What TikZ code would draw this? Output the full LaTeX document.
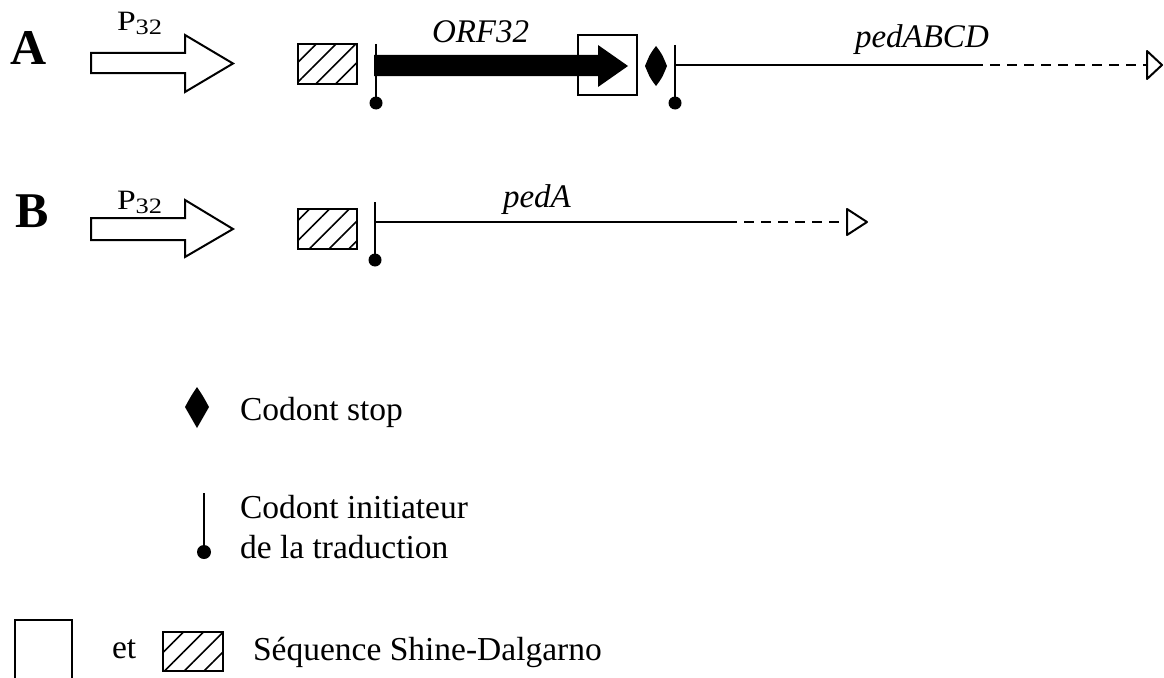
\documentclass[tikz,border=0pt]{standalone}
\usepackage{fontspec}
\setmainfont{Liberation Serif}
\usetikzlibrary{patterns.meta}
\newcommand\myfs[1]{\fontsize{#1}{#1}\selectfont}
\newcommand\pthirtytwo{\scalebox{1.2}[1]{\myfs{28}P\raisebox{-4pt}{\myfs{22}32}}}
\tikzset{
  every node/.style={inner sep=0pt, outer sep=0pt, anchor=base west},
  thin line/.style={line width=2pt},
  hatchbox/.style={draw, line width=2pt, pattern={Lines[angle=45,distance=14pt,line width=1.6pt]}},
  openbox/.style={draw, line width=2pt},
  promoter/.style={draw, line width=2pt, fill=white, line join=miter},
  dashpart/.style={line width=2pt, dash pattern=on 10pt off 7pt},
  opentip/.style={draw, line width=2pt, fill=white, line join=round},
  rowlabel/.style={font=\myfs{50}\bfseries},
  genelabel/.style={font=\myfs{33}\itshape},
  legendtext/.style={font=\myfs{33.5}},
}
\begin{document}
\begin{tikzpicture}[x=1pt,y=-1pt]
\useasboundingbox (0,0) rectangle (1164,677);

% ---------------- Row A ----------------
\node[rowlabel] (labA) at (10,65) {A};
\draw[promoter] (91,53) -- (185,53) -- (185,35) -- (233,63.5) -- (185,92) -- (185,73) -- (91,73) -- cycle;
\node (pA) at (117,31) {\pthirtytwo};
\path[hatchbox] (298,44) rectangle (357,84);
% box around end of ORF32
\draw[openbox] (578,35) rectangle (637,95);
% initiator 1
\coordinate (iA1t) at (376,44);
\coordinate (iA1b) at (376,103);
\draw[thin line] (iA1t) -- (iA1b);
\fill (iA1b) circle (6.5);
% ORF32 thick arrow
\fill (374,55) -- (598,55) -- (598,45) -- (628,66) -- (598,87) -- (598,76) -- (374,76) -- cycle;
\node[genelabel] (orf) at (432,43) {ORF32};
% stop codon
\fill (656,46) .. controls (662,54) .. (667,66) .. controls (662,78) .. (656,86) .. controls (650,78) .. (645,66) .. controls (650,54) .. cycle;
% initiator 2
\coordinate (iA2t) at (675,45);
\coordinate (iA2b) at (675,103);
\draw[thin line] (iA2t) -- (iA2b);
\fill (iA2b) circle (6.5);
% pedABCD line
\coordinate (gA0) at (675,65);
\coordinate (gA1) at (973,65);
\coordinate (gA2) at (1147,65);
\draw[thin line] (gA0) -- (gA1);
\draw[dashpart] (gA1) -- (gA2);
\draw[opentip] (1147,51) -- (1162,65) -- (1147,79) -- cycle;
\node[genelabel] (ped4) at (855,48) {pedABCD};

% ---------------- Row B ----------------
\node[rowlabel] (labB) at (15,227) {B};
\draw[promoter] (91,218) -- (185,218) -- (185,200) -- (233,229) -- (185,257) -- (185,240) -- (91,240) -- cycle;
\node (pB) at (117,209) {\pthirtytwo};
\path[hatchbox] (298,209) rectangle (357,249);
\coordinate (iB1t) at (375,202);
\coordinate (iB1b) at (375,260);
\draw[thin line] (iB1t) -- (iB1b);
\fill (iB1b) circle (6.5);
\coordinate (gB0) at (375,222);
\coordinate (gB1) at (727,222);
\coordinate (gB2) at (847,222);
\draw[thin line] (gB0) -- (gB1);
\draw[dashpart] (gB1) -- (gB2);
\draw[opentip] (847,209) -- (867,222) -- (847,235) -- cycle;
\node[genelabel] (pedA) at (503,207) {pedA};

% ---------------- Legend ----------------
\fill (197,387) .. controls (203,396) .. (209,407) .. controls (203,418) .. (197,428) .. controls (191,418) .. (185,407) .. controls (191,396) .. cycle;
\node[legendtext] (stop) at (240,420) {Codont stop};

\coordinate (iLt) at (204,493);
\coordinate (iLb) at (204,552);
\draw[thin line] (iLt) -- (iLb);
\fill (iLb) circle (7);
\node[legendtext] (init1) at (240,518) {Codont initiateur};
\node[legendtext] (init2) at (240,558) {de la traduction};

\draw[openbox] (15,680) -- (15,620) -- (72,620) -- (72,680);
\node[legendtext] (et) at (112,658) {et};
\path[hatchbox] (163,632) rectangle (223,671);
\node[legendtext] (sd) at (253,660) {Séquence Shine-Dalgarno};
\end{tikzpicture}
\end{document}
